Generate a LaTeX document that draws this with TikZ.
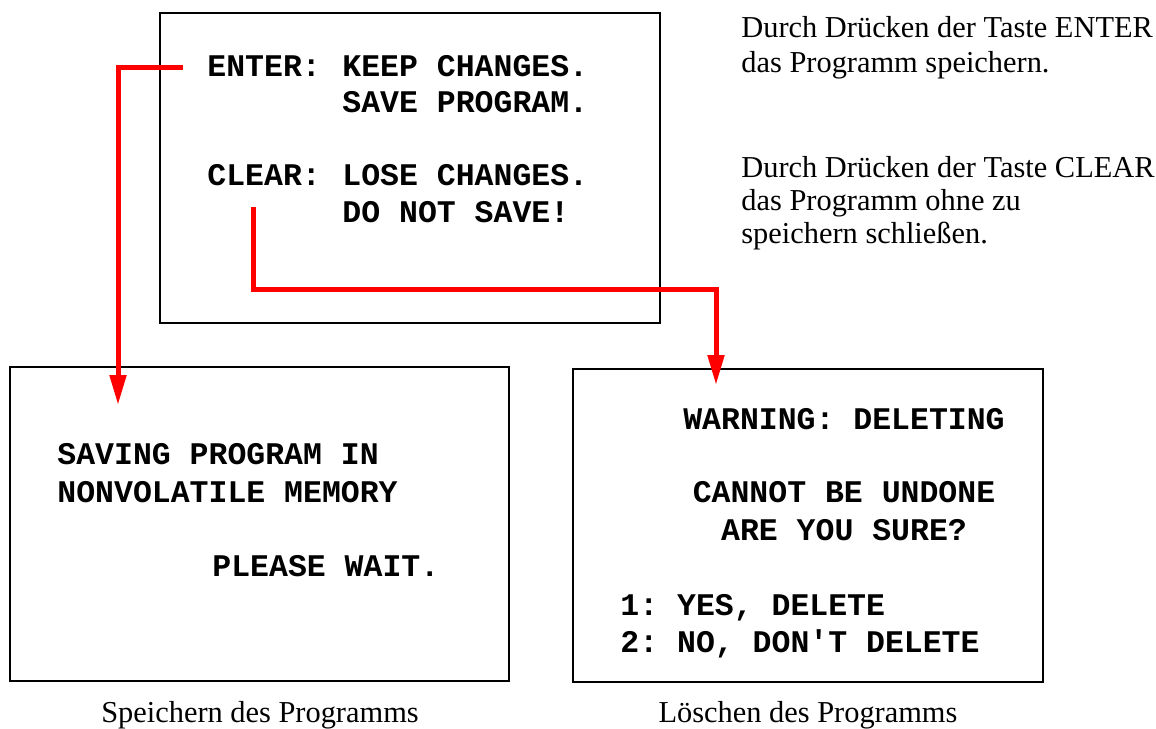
\documentclass[tikz,border=0pt]{standalone}
\usepackage{fontspec}
\setmainfont{Liberation Serif}
\setmonofont{Liberation Mono}
\usetikzlibrary{arrows.meta}

\tikzset{
  screen/.style={draw, line width=1.3pt, rectangle, inner sep=0pt},
  lcd/.style={font=\ttfamily\bfseries\fontsize{15.75}{18}\selectfont, inner sep=0pt, anchor=base west},
  note/.style={font=\fontsize{15.2}{17.5}\selectfont, inner sep=0pt, anchor=base west},
  redarrow/.style={draw=red, line width=2.5pt, -{Triangle[length=15pt,width=8pt]}}
}

\begin{document}
\begin{tikzpicture}[x=0.5pt, y=-0.5pt]
    \useasboundingbox (0,0) rectangle (1156,728);

    % the three screens
    \node[screen, minimum width=250pt, minimum height=155pt] (menu) at (410,168) {};
    \node[screen, minimum width=249.5pt, minimum height=157pt] (saving) at (259.5,524) {};
    \node[screen, minimum width=235pt, minimum height=156.5pt] (warning) at (808,525.5) {};

    % menu screen
    \node[lcd] (enter) at (207,76) {ENTER:};
    \node[lcd] (keep) at (342,76) {KEEP CHANGES.};
    \node[lcd] (save) at (342,112) {SAVE PROGRAM.};
    \node[lcd] (clear) at (207,185) {CLEAR:};
    \node[lcd] (lose) at (342,185) {LOSE CHANGES.};
    \node[lcd] (donot) at (342,222) {DO NOT SAVE!};

    % saving screen
    \node[lcd] (sav1) at (57,464) {SAVING PROGRAM IN};
    \node[lcd] (sav2) at (57,502) {NONVOLATILE MEMORY};
    \node[lcd] (sav3) at (212,576) {PLEASE WAIT.};

    % warning screen
    \node[lcd, anchor=base] (warn1) at (844,429) {WARNING: DELETING};
    \node[lcd, anchor=base] (warn2) at (844,502) {CANNOT BE UNDONE};
    \node[lcd, anchor=base] (warn3) at (844,540) {ARE YOU SURE?};
    \node[lcd] (yes) at (620,615) {1: YES, DELETE};
    \node[lcd] (no) at (620,652) {2: NO, DON'T DELETE};

    % notes on the right
    \foreach \txt [count=\i] in {Durch Drücken der Taste ENTER, das Programm speichern.}
      \node[note] (enternote\i) at (741,{37+35*(\i-1)}) {\txt};
    \foreach \txt [count=\i] in {Durch Drücken der Taste CLEAR, das Programm ohne zu, speichern schließen.}
      \node[note] (clearnote\i) at (741,{177+33*(\i-1)}) {\txt};

    % captions
    \node[note, anchor=base] (savecap) at (260,722) {Speichern des Programms};
    \node[note, anchor=base] (delcap) at (808,722) {Löschen des Programms};

    % red arrows
    \coordinate (enterout) at (183,67);
    \coordinate (saveto) at (118,405);
    \coordinate (clearout) at (253,207);
    \coordinate (delto) at (716,385);
    \draw[redarrow] (enterout) -| (saveto);
    \draw[redarrow] (clearout) -- ++(0,82) -| (delto);
\end{tikzpicture}
\end{document}
